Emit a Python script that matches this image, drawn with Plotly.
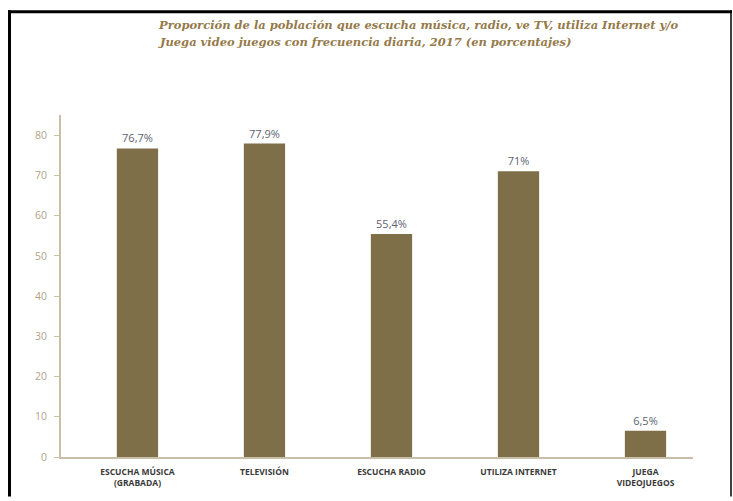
import plotly.graph_objects as go

categories = ["ESCUCHA MÚSICA<br>(GRABADA)", "TELEVISIÓN", "ESCUCHA RADIO", "UTILIZA INTERNET", "JUEGA<br>VIDEOJUEGOS"]
values = [76.7, 77.9, 55.4, 71.0, 6.5]
value_labels = ["76,7%", "77,9%", "55,4%", "71%", "6,5%"]
y_ticks = [0, 10, 20, 30, 40, 50, 60, 70, 80]
title_lines = [
    "Proporción de la población que escucha música, radio, ve TV, utiliza Internet y/o",
    "Juega video juegos con frecuencia diaria, 2017 (en porcentajes)",
]

W, H = 733, 501
L, R, T, B = 61, 40, 115, 40
pw, ph = W - L - R, H - T - B

def px(x):
    return (x - L) / pw

def py(y):
    return (H - B - y) / ph

fig = go.Figure()
fig.add_trace(go.Bar(
    x=list(range(len(categories))),
    y=values,
    text=value_labels,
    textposition="outside",
    textfont=dict(family="Open Sans", size=11, color="#5d6270"),
    marker=dict(color="#7f6f48", line=dict(width=0)),
    width=0.325,
    cliponaxis=False,
    hoverinfo="skip",
))

axis_col = "#c9bfa9"
fig.update_layout(
    width=W, height=H,
    margin=dict(l=L, r=R, t=T, b=B),
    plot_bgcolor="white", paper_bgcolor="white",
    showlegend=False,
    xaxis=dict(
        range=[-0.602, 4.374],
        tickmode="array",
        tickvals=list(range(len(categories))),
        ticktext=categories,
        tickfont=dict(family="Open Sans", size=8.5, color="#3a3a3a", weight="bold"),
        showline=True, linecolor=axis_col, linewidth=2,
        ticks="", showgrid=False, zeroline=False,
        ticklabelstandoff=6,
    ),
    yaxis=dict(
        range=[0, 85],
        tickmode="array",
        tickvals=y_ticks,
        ticktext=[str(v) for v in y_ticks],
        tickfont=dict(family="Open Sans", size=10.5, color="#b0a388"),
        showline=True, linecolor=axis_col, linewidth=2,
        ticks="outside", ticklen=5, tickcolor=axis_col, tickwidth=1,
        showgrid=False, zeroline=False,
        ticklabelstandoff=5,
    ),
)

for line, yc in zip(title_lines, [23.5, 41]):
    fig.add_annotation(
        xref="paper", yref="paper", x=px(156), y=py(yc),
        xanchor="left", yanchor="middle", align="left", showarrow=False,
        text="<b><i>" + line + "</i></b>",
        font=dict(family="DejaVu Serif", size=11.5, color="#957a4a"),
    )

# frame lines
fig.add_shape(type="line", xref="paper", yref="paper", x0=px(8), x1=px(732), y0=py(10.5), y1=py(10.5),
              line=dict(color="black", width=3))
fig.add_shape(type="line", xref="paper", yref="paper", x0=px(9.5), x1=px(9.5), y0=py(9), y1=py(501),
              line=dict(color="black", width=3))
fig.add_shape(type="line", xref="paper", yref="paper", x0=px(731), x1=px(731), y0=py(9), y1=py(501),
              line=dict(color="black", width=1.5))

fig.write_html("out.html", config={"displayModeBar": False},
               post_script="document.body.style.margin='0';")
